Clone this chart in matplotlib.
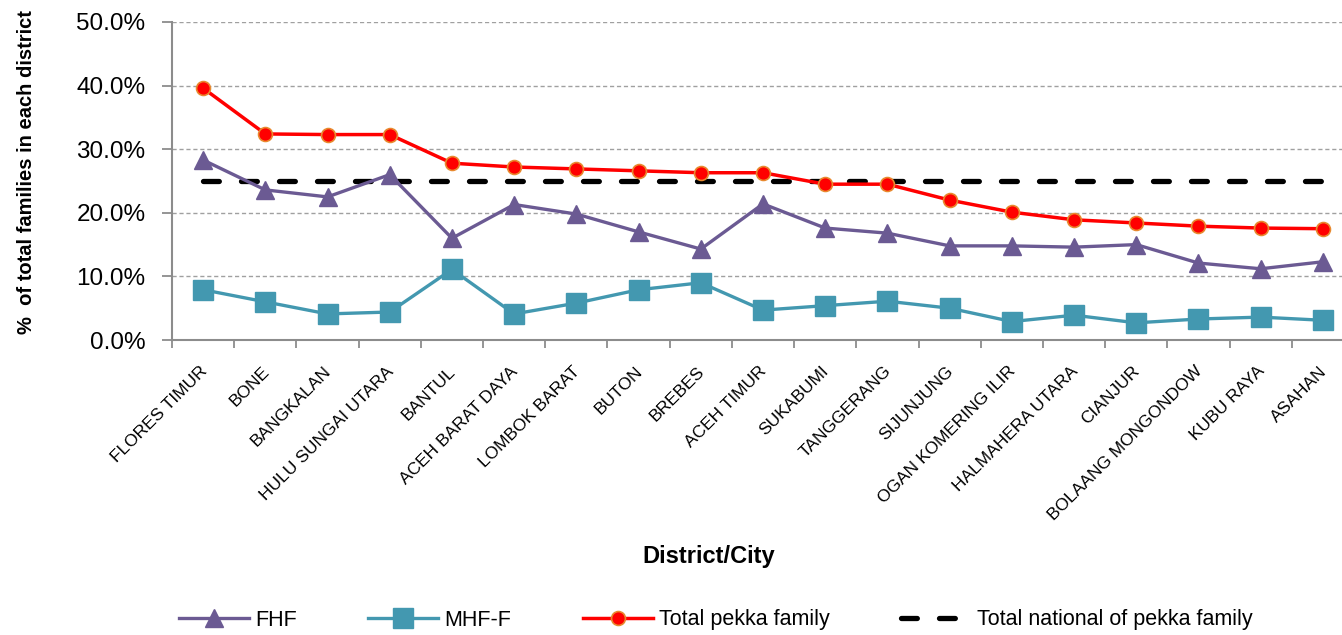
import matplotlib
matplotlib.use("Agg")
import matplotlib.pyplot as plt
from matplotlib import font_manager
from matplotlib.ticker import FuncFormatter, FixedLocator, NullFormatter
from matplotlib.transforms import ScaledTranslation

districts = ["FLORES TIMUR", "BONE", "BANGKALAN", "HULU SUNGAI UTARA", "BANTUL",
             "ACEH BARAT DAYA", "LOMBOK BARAT", "BUTON", "BREBES", "ACEH TIMUR",
             "SUKABUMI", "TANGGERANG", "SIJUNJUNG", "OGAN KOMERING ILIR",
             "HALMAHERA UTARA", "CIANJUR", "BOLAANG MONGONDOW", "KUBU RAYA", "ASAHAN"]
fhf = [28.3, 23.6, 22.5, 26.0, 16.0, 21.3, 19.8, 17.0, 14.3, 21.4,
       17.6, 16.8, 14.8, 14.8, 14.6, 15.0, 12.1, 11.2, 12.3]
mhf_f = [7.9, 6.0, 4.1, 4.4, 11.1, 4.1, 5.8, 7.9, 9.0, 4.7,
         5.4, 6.1, 5.0, 2.9, 3.9, 2.7, 3.3, 3.6, 3.1]
total_pekka = [39.6, 32.4, 32.3, 32.3, 27.8, 27.2, 26.9, 26.6, 26.3, 26.3,
               24.5, 24.5, 22.0, 20.1, 18.9, 18.4, 17.9, 17.6, 17.5]
national = [25.0] * len(districts)
yticks = [0, 10, 20, 30, 40, 50]

RF = "Liberation Sans"
plt.rcParams['font.family'] = [RF, 'DejaVu Sans']

fig = plt.figure(figsize=(13.42, 6.35), dpi=100)
ax = fig.add_axes([172/1342, 1-340/635, 1182/1342, 318/635])

x = list(range(len(districts)))
purple = "#6B5A93"
teal = "#4398B0"

ax.plot(x, national, color="black", lw=3.8, dashes=(3.0, 4.2), dash_capstyle='round',
        zorder=2, label="Total national of pekka family")
ax.plot(x, fhf, color=purple, lw=2.4, marker="^", ms=13, zorder=3, label="FHF")
ax.plot(x, mhf_f, color=teal, lw=2.4, marker="s", ms=14, zorder=3, label="MHF-F")
ax.plot(x, total_pekka, color="#FF0000", lw=2.5, marker="o", ms=10,
        markerfacecolor="#FF0000", markeredgecolor="#E8892E", markeredgewidth=1.2,
        zorder=4, label="Total pekka family")

ax.set_xlim(-0.5, len(districts) - 0.5)
ax.set_ylim(0, 50)
ax.set_yticks(yticks)
ax.yaxis.set_major_formatter(FuncFormatter(lambda v, p: f"{v:.1f}%"))
ax.yaxis.grid(True, color="#A0A0A0", linestyle=(0, (3, 2)), linewidth=1.0)
ax.set_axisbelow(True)

ax.xaxis.set_major_locator(FixedLocator([i - 0.5 for i in range(len(districts) + 1)]))
ax.xaxis.set_major_formatter(NullFormatter())
ax.xaxis.set_minor_locator(FixedLocator(x))
ax.set_xticklabels(districts, minor=True)
ax.tick_params(axis='x', which='minor', length=0, pad=17)
ax.tick_params(axis='x', which='major', length=6, width=1.3, color="#8C8C8C", direction='out')
ax.tick_params(axis='y', length=7, width=1.3, color="#8C8C8C", direction='out', pad=12)
shift = ScaledTranslation(-4/100, 0, fig.dpi_scale_trans)
for lab in ax.get_xticklabels(minor=True):
    lab.set_rotation(45)
    lab.set_ha('right')
    lab.set_va('top')
    lab.set_rotation_mode('anchor')
    lab.set_fontsize(12.5)
    lab.set_transform(lab.get_transform() + shift)
for lab in ax.get_yticklabels():
    lab.set_fontsize(17.5)

for s in ["top", "right"]:
    ax.spines[s].set_visible(False)
for s in ["left", "bottom"]:
    ax.spines[s].set_color("#8C8C8C")
    ax.spines[s].set_linewidth(1.5)

fig.text(27/1342, 1-172/635, "%  of total families in each district", rotation=90,
         ha='center', va='center', fontsize=14.5, fontweight='bold')
fig.text(709/1342, 1-557/635, "District/City", ha='center', va='center',
         fontsize=17, fontweight='bold')

h, l = ax.get_legend_handles_labels()
order = [1, 2, 3, 0]
leg = fig.legend([h[i] for i in order], [l[i] for i in order], loc='center',
                 bbox_to_anchor=(716/1342, 1-620/635), ncol=4, frameon=False,
                 handlelength=3.25, columnspacing=3.3, handletextpad=0.3,
                 prop=font_manager.FontProperties(family=[RF, 'DejaVu Sans'], size=15.5))

fig.savefig("out.png", dpi=100)
